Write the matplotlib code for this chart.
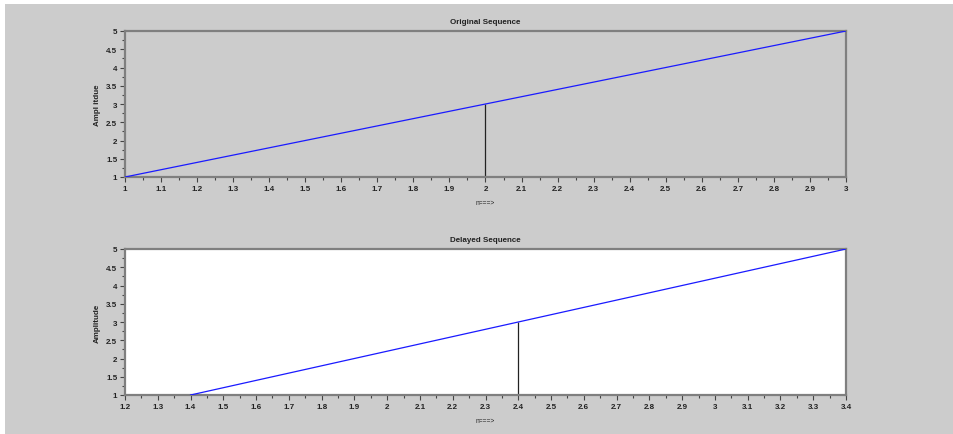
import numpy as np
import matplotlib
matplotlib.use('Agg')
import matplotlib.pyplot as plt
from matplotlib.patches import Rectangle
from matplotlib.ticker import MultipleLocator, FuncFormatter

# original sequence and its delayed copy
n_orig = [1, 2, 3]
x_orig = [1, 3, 5]
n_delay = [1.4, 2.4, 3.4]
x_delay = [1, 3, 5]

BG = '#cccccc'
EDGE = '#7f7f7f'
FS = 5.8

plt.rcParams['font.family'] = ['Liberation Sans', 'DejaVu Sans']

fig = plt.figure(figsize=(9.54, 4.35), dpi=100, facecolor='white')
fig.patches.append(Rectangle((5 / 954, 0), 1, 1 - 5 / 435, transform=fig.transFigure,
                             facecolor=BG, edgecolor='none', zorder=-10))


def seq_axes(rect, n, x, xlim, title, ylabel, face):
    ax = fig.add_axes(rect)
    ax.set_facecolor(face)
    ax.plot(n, x, color='#1a1aff', lw=0.9, zorder=3)
    ax.vlines(n, 1, x, color='#222222', lw=0.9, zorder=2)
    ax.set_xlim(*xlim)
    ax.set_ylim(1, 5)
    ax.xaxis.set_major_locator(MultipleLocator(0.1))
    ax.xaxis.set_minor_locator(MultipleLocator(0.05))
    ax.yaxis.set_major_locator(MultipleLocator(0.5))
    ax.yaxis.set_minor_locator(MultipleLocator(0.25))
    ax.xaxis.set_major_formatter(FuncFormatter(lambda v, p: f'{v:g}'))
    ax.yaxis.set_major_formatter(FuncFormatter(lambda v, p: f'{v:g}'))
    for s in ax.spines.values():
        s.set_color(EDGE)
        s.set_linewidth(1.6)
    ax.tick_params(which='major', length=3.5, width=0.8, color='#444444',
                   labelsize=FS, labelcolor='#222222', pad=2)
    ax.tick_params(which='minor', length=2, width=0.8, color='#444444')
    for lbl in ax.get_xticklabels() + ax.get_yticklabels():
        lbl.set_fontweight('bold')
    ax.set_title(title, fontsize=FS, color='#222222', pad=6, fontweight='bold')
    ax.set_xlabel('n===>', fontsize=FS - 1, color='#222222', labelpad=5)
    ax.set_ylabel(ylabel, fontsize=FS, color='#222222', labelpad=4, fontweight='bold')
    return ax


seq_axes([125 / 954, 1 - 178 / 435, 721 / 954, 146 / 435], n_orig, x_orig,
         (1, 3), 'Original Sequence', 'Ampl itdue', BG)
seq_axes([125 / 954, 1 - 396 / 435, 721 / 954, 146 / 435], n_delay, x_delay,
         (1.2, 3.4), 'Delayed Sequence', 'Amplitude', 'white')

fig.savefig('out.png', dpi=100, facecolor=fig.get_facecolor())
